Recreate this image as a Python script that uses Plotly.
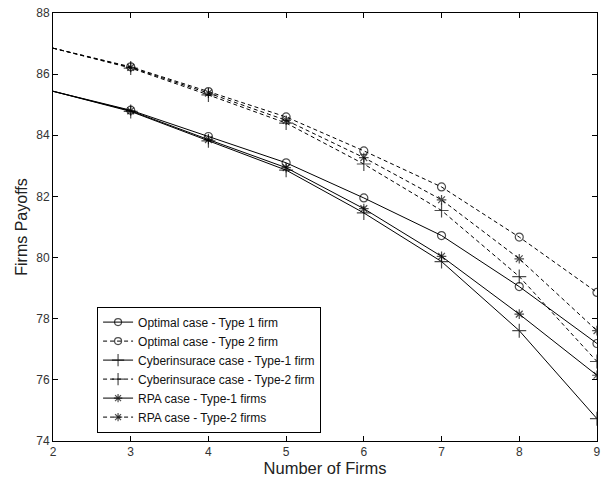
import plotly.graph_objects as go

firms = [2, 3, 4, 5, 6, 7, 8, 9]

opt_t1 = [85.44, 84.82, 83.96, 83.10, 81.95, 80.72, 79.05, 77.19]
opt_t2 = [86.85, 86.24, 85.43, 84.60, 83.49, 82.31, 80.67, 78.86]
cyb_t1 = [85.44, 84.78, 83.82, 82.86, 81.46, 79.87, 77.61, 74.73]
cyb_t2 = [86.85, 86.20, 85.32, 84.40, 83.06, 81.54, 79.38, 76.60]
rpa_t1 = [85.44, 84.80, 83.86, 82.94, 81.60, 80.04, 78.15, 76.15]
rpa_t2 = [86.85, 86.22, 85.38, 84.49, 83.27, 81.89, 79.96, 77.61]

series = [
    ("Optimal case - Type 1 firm", opt_t1, "solid", "circle-open", 8),
    ("Optimal case - Type 2 firm", opt_t2, "4px,3px", "circle-open", 8),
    ("Cyberinsurace case - Type-1 firm", cyb_t1, "solid", "cross-thin-open", 10),
    ("Cyberinsurace case - Type-2 firm", cyb_t2, "4px,3px", "cross-thin-open", 10),
    ("RPA case - Type-1 firms", rpa_t1, "solid", "asterisk-open", 8),
    ("RPA case - Type-2 firms", rpa_t2, "4px,3px", "asterisk-open", 8),
]

fig = go.Figure()
for name, ys, dash, sym, sz in series:
    # no marker at x=2 in the reference
    sizes = [0] + [sz] * (len(firms) - 1)
    fig.add_trace(go.Scatter(
        x=firms, y=ys, name=name, mode="lines+markers",
        line=dict(color="black", width=1, dash=dash),
        marker=dict(symbol=sym, size=sizes, color="black",
                    line=dict(color="black", width=1.2)),
    ))

FONT = "Liberation Sans, Arial"
axis_common = dict(
    showgrid=False, zeroline=False, showline=True, linecolor="black", linewidth=1,
    mirror="ticks", ticks="inside", ticklen=5, tickcolor="black", automargin=False,
    tickfont=dict(family=FONT, size=12, color="#333"),
)
fig.update_xaxes(range=[2, 9.0005], autorange=False, tickvals=firms,
                 title=dict(text="Number of Firms", font=dict(family=FONT, size=16.5, color="#222"), standoff=1),
                 **axis_common)
fig.update_yaxes(range=[74, 88], autorange=False, dtick=2,
                 title=dict(text="Firms Payoffs", font=dict(family=FONT, size=16, color="#222"), standoff=4),
                 **axis_common)

fig.update_layout(
    width=601, height=482,
    margin=dict(l=53, r=4, t=13, b=41),
    paper_bgcolor="white", plot_bgcolor="white",
    legend=dict(x=0.081, y=0.314, xanchor="left", yanchor="top",
                bgcolor="white", bordercolor="black", borderwidth=1,
                font=dict(family=FONT, size=12, color="#111"),
                tracegroupgap=0, itemwidth=30),
    showlegend=True,
)
fig.write_html("out.html", config={"displayModeBar": False},
               post_script="document.body.style.margin='0';document.body.style.padding='0';")
